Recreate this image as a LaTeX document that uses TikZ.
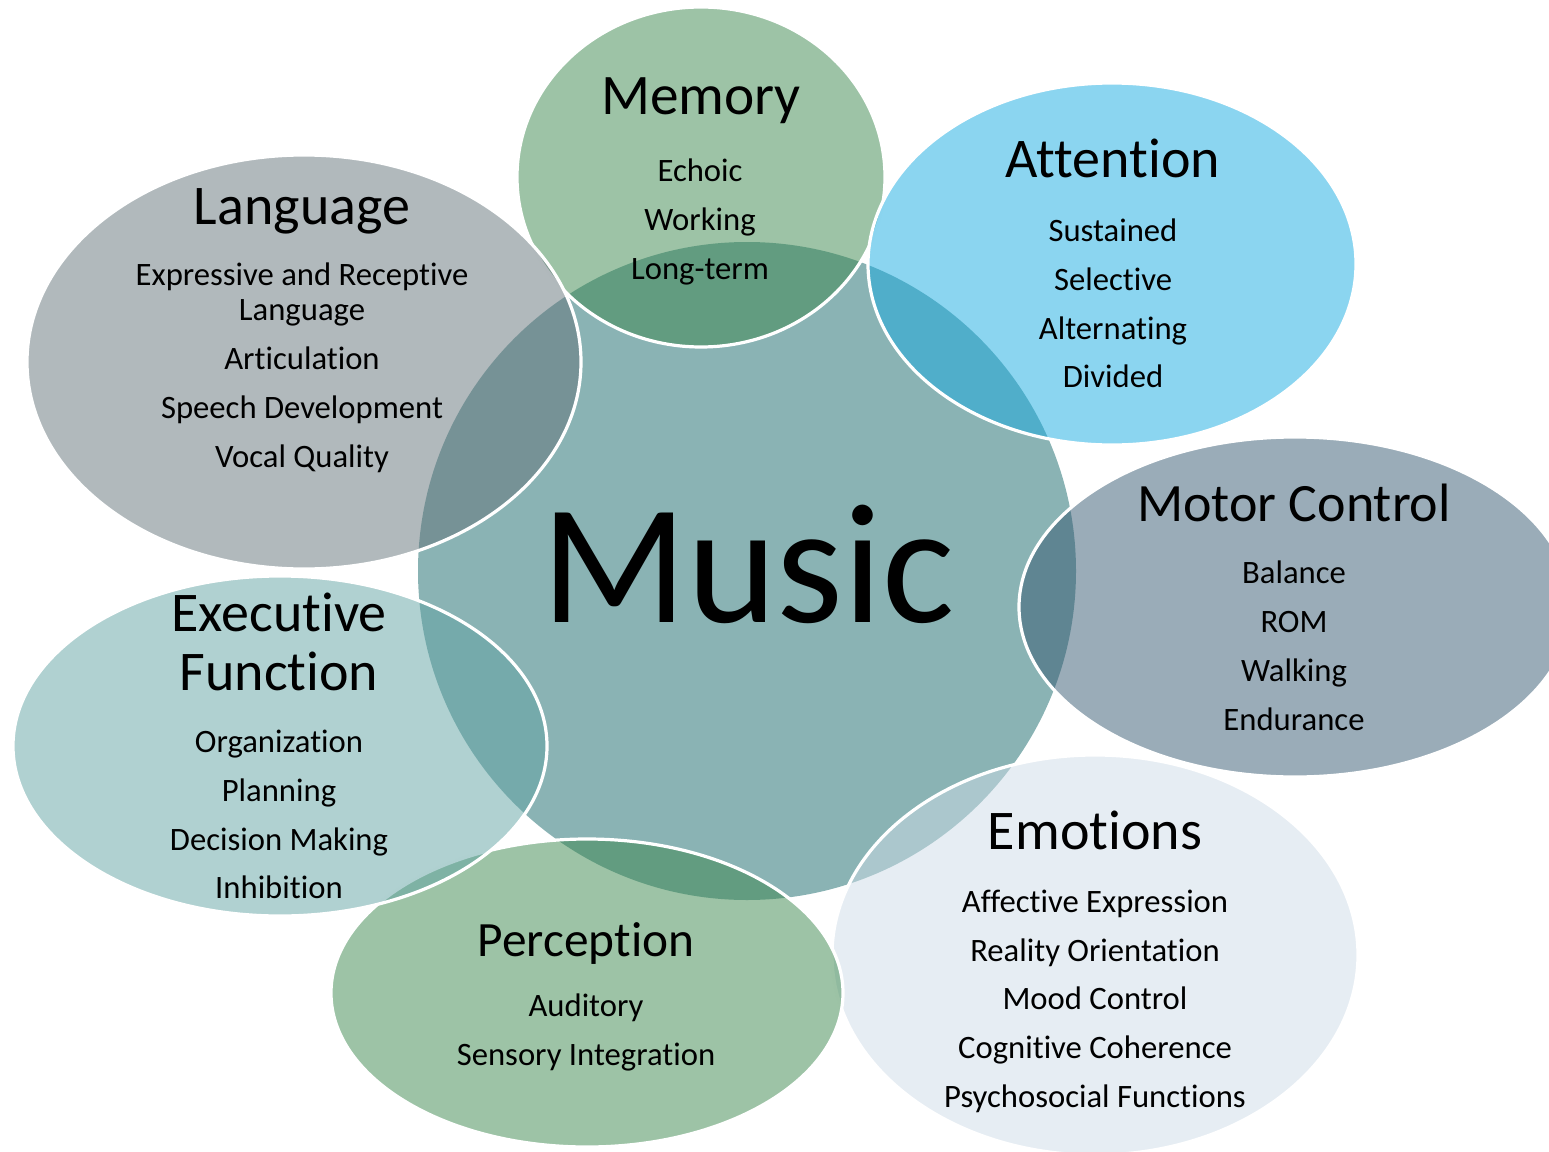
\documentclass[tikz,border=0pt]{standalone}
\usepackage{fontspec}
\setmainfont{Carlito}[Ligatures=NoCommon]
\usepackage{xcolor}
\definecolor{musicteal}{RGB}{138,179,180}
\definecolor{memgreen}{RGB}{59,135,77}
\definecolor{attblue}{RGB}{23,171,225}
\definecolor{langgrey}{RGB}{99,115,121}
\definecolor{motorslate}{RGB}{53,89,113}
\definecolor{execteal}{RGB}{97,163,163}
\definecolor{emopale}{RGB}{205,219,231}

\begin{document}
\begin{tikzpicture}[x=0.75pt,y=-0.75pt,
    satellite/.style={draw=white,line width=2.4pt,fill opacity=0.5},
    title/.style={anchor=base,font=\fontsize{42}{42}\selectfont},
    item/.style={anchor=base,font=\fontsize{24.5}{24.5}\selectfont}]
        \useasboundingbox (0,0) rectangle (1549,1152);
        % music
        \fill[musicteal] (747,571) circle [radius=329];
        \node[anchor=base,font=\fontsize{128}{128}\selectfont] (music) at (748,622) {Music};
        % memory
        \draw[satellite,fill=memgreen] (701,177) ellipse [x radius=184,y radius=170];
        % attention
        \draw[satellite,fill=attblue] (1112,264) ellipse [x radius=244,y radius=181];
        % motor control
        \draw[satellite,fill=motorslate] (1295,607) ellipse [x radius=276,y radius=170];
        % emotions
        \draw[satellite,fill=emopale] (1095,955) ellipse [x radius=263,y radius=200];
        % perception
        \draw[satellite,fill=memgreen] (587,993) ellipse [x radius=256,y radius=154];
        % executive function
        \draw[satellite,fill=execteal] (280,746) ellipse [x radius=267,y radius=170];
        % language
        \draw[satellite,fill=langgrey] (304,362) ellipse [x radius=277,y radius=207];
        % texts
        \node[title,font=\fontsize{43}{43}\selectfont] (memory) at (701,115) {Memory};
        \node[item] (memory-1) at (700,181) {Echoic};
        \node[item] (memory-2) at (700,230) {Working};
        \node[item] (memory-3) at (700,279) {Long-term};
        \node[title] (attention) at (1113,178) {Attention};
        \node[item] (attention-1) at (1113,241) {Sustained};
        \node[item] (attention-2) at (1113,290) {Selective};
        \node[item] (attention-3) at (1113,339) {Alternating};
        \node[item] (attention-4) at (1113,387) {Divided};
        \node[title] (language) at (302,224) {Language};
        \node[item] (language-1) at (302,285) {Expressive and Receptive};
        \node[item] (language-1b) at (302,320) {Language};
        \node[item] (language-2) at (302,369) {Articulation};
        \node[item] (language-3) at (302,418) {Speech Development};
        \node[item] (language-4) at (302,467) {Vocal Quality};
        \node[title,font=\fontsize{40.5}{40.5}\selectfont] (motor) at (1294,521) {Motor Control};
        \node[item] (motor-1) at (1294,583) {Balance};
        \node[item] (motor-2) at (1294,632) {ROM};
        \node[item] (motor-3) at (1294,681) {Walking};
        \node[item] (motor-4) at (1294,730) {Endurance};
        \node[title] (executive) at (279,631) {Executive};
        \node[title] (executive-b) at (279,690) {Function};
        \node[item] (executive-1) at (279,752) {Organization};
        \node[item] (executive-2) at (279,801) {Planning};
        \node[item] (executive-3) at (279,850) {Decision Making};
        \node[item] (executive-4) at (279,898) {Inhibition};
        \node[title,font=\fontsize{37}{37}\selectfont] (perception) at (586,956) {Perception};
        \node[item] (perception-1) at (586,1016) {Auditory};
        \node[item] (perception-2) at (586,1065) {Sensory Integration};
        \node[title] (emotions) at (1095,849) {Emotions};
        \node[item] (emotions-1) at (1095,912) {Affective Expression};
        \node[item] (emotions-2) at (1095,961) {Reality Orientation};
        \node[item] (emotions-3) at (1095,1009) {Mood Control};
        \node[item] (emotions-4) at (1095,1058) {Cognitive Coherence};
        \node[item] (emotions-5) at (1095,1107) {Psychosocial Functions};
    \end{tikzpicture}
\end{document}
